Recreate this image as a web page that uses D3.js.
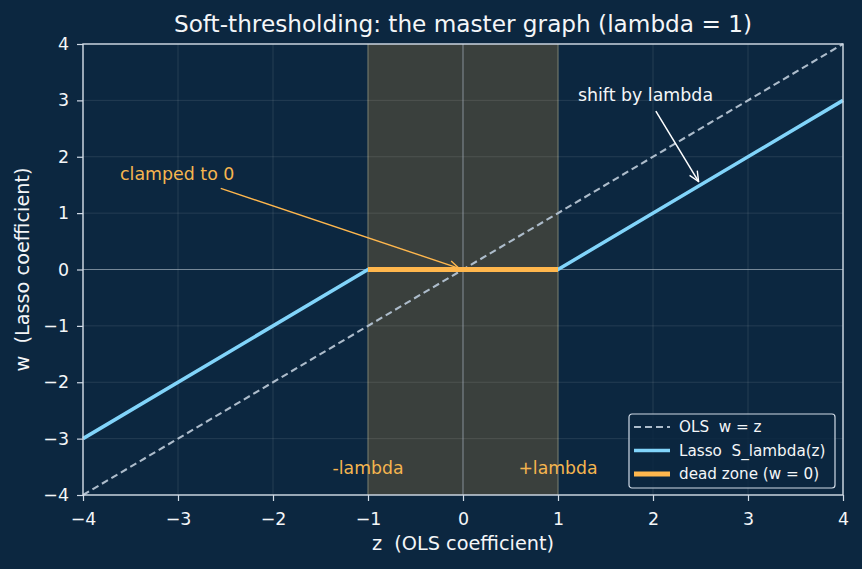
<!DOCTYPE html>
<html><head><meta charset="utf-8">
<script src="https://cdn.jsdelivr.net/npm/d3@7"></script>
<style>body{margin:0;background:#0c2740;}svg{display:block;font-family:"DejaVu Sans",sans-serif;}text{white-space:pre;}</style>
</head><body><svg id="c" width="862" height="569"></svg>
<script>
const lambda = 1;
const zDomain = [-4, 4];
const wDomain = [-4, 4];
const xTicks = [-4, -3, -2, -1, 0, 1, 2, 3, 4];
const yTicks = [-4, -3, -2, -1, 0, 1, 2, 3, 4];
const olsZ = [-4, 4];
const lassoZ = [-4, -1, 1, 4];
const deadZ = [-1, 1];
const legendLabels = ["OLS  w = z", "Lasso  S_lambda(z)", "dead zone (w = 0)"];
const soft = z => Math.sign(z) * Math.max(Math.abs(z) - lambda, 0);

const svg = d3.select("#c");
const W = 862, H = 569;
const m = {l: 83, r: 19, t: 44, b: 74};
const x = d3.scaleLinear().domain(zDomain).range([m.l, W - m.r]);
const y = d3.scaleLinear().domain(wDomain).range([H - m.b, m.t]);

svg.append("rect").attr("width", W).attr("height", H).attr("fill", "#0c2740");

// dead zone shading
svg.append("rect").attr("x", x(-lambda)).attr("y", y(4)).attr("width", x(lambda)-x(-lambda)).attr("height", y(-4)-y(4))
  .attr("fill", "#4a4a3c").attr("opacity", 0.75);
[ -lambda, lambda ].forEach(v => svg.append("line").attr("x1", x(v)).attr("x2", x(v)).attr("y1", y(4)).attr("y2", y(-4))
  .attr("stroke", "#6b7060").attr("stroke-width", 1));

// grid
const g = svg.append("g");
xTicks.forEach(t => g.append("line").attr("x1", x(t)).attr("x2", x(t)).attr("y1", y(4)).attr("y2", y(-4)).attr("stroke", "#ffffff").attr("stroke-opacity", 0.13).attr("stroke-width", 0.8));
yTicks.forEach(t => g.append("line").attr("y1", y(t)).attr("y2", y(t)).attr("x1", x(-4)).attr("x2", x(4)).attr("stroke", "#ffffff").attr("stroke-opacity", 0.13).attr("stroke-width", 0.8));

// zero axes
svg.append("line").attr("x1", x(-4)).attr("x2", x(4)).attr("y1", y(0)).attr("y2", y(0)).attr("stroke", "#9aa8b6").attr("stroke-opacity", 0.7).attr("stroke-width", 1.2);
svg.append("line").attr("x1", x(0)).attr("x2", x(0)).attr("y1", y(4)).attr("y2", y(-4)).attr("stroke", "#9aa8b6").attr("stroke-opacity", 0.55).attr("stroke-width", 1.2);

const line = d3.line().x(d => x(d[0])).y(d => y(d[1]));
svg.append("path").datum(olsZ.map(z => [z, z])).attr("d", line).attr("fill", "none")
  .attr("stroke", "#adbccb").attr("stroke-width", 2.1).attr("stroke-dasharray", "7,4");
svg.append("path").datum(lassoZ.map(z => [z, soft(z)])).attr("d", line).attr("fill", "none")
  .attr("stroke", "#81d4fa").attr("stroke-width", 3.5);
svg.append("path").datum(deadZ.map(z => [z, 0])).attr("d", line).attr("fill", "none")
  .attr("stroke", "#ffb74d").attr("stroke-width", 5);

// spines
svg.append("rect").attr("x", x(-4)).attr("y", y(4)).attr("width", x(4)-x(-4)).attr("height", y(-4)-y(4))
  .attr("fill", "none").attr("stroke", "#d0dae6").attr("stroke-width", 1.4);

// axes
const fmt = d => d < 0 ? "\u2212" + Math.abs(d) : String(d);
const xa = svg.append("g").attr("transform", `translate(0,${y(-4)})`).call(d3.axisBottom(x).tickValues(xTicks).tickSize(6).tickPadding(12).tickFormat(fmt));
const ya = svg.append("g").attr("transform", `translate(${x(-4)},0)`).call(d3.axisLeft(y).tickValues(yTicks).tickSize(6).tickPadding(8).tickFormat(fmt));
[xa, ya].forEach(a => {
  a.attr("font-size", null).attr("font-family", null);
  a.select(".domain").remove();
  a.selectAll("line").attr("stroke", "#d0dae6").attr("stroke-width", 1.2);
  a.selectAll("text").attr("fill", "#f4f6f8").style("font-size", "17.4px");
});

// labels
svg.append("text").attr("x", (x(-4)+x(4))/2).attr("y", 32).attr("text-anchor", "middle").attr("fill", "#f4f6f8").style("font-size", "23.2px")
  .text("Soft-thresholding: the master graph (lambda = 1)");
svg.append("text").attr("x", (x(-4)+x(4))/2).attr("y", 550).attr("text-anchor", "middle").attr("fill", "#f4f6f8").style("font-size", "19.3px")
  .text("z  (OLS coefficient)");
svg.append("text").attr("transform", `translate(29,${(y(4)+y(-4))/2}) rotate(-90)`).attr("text-anchor", "middle").attr("fill", "#f4f6f8").style("font-size", "19.3px")
  .text("w  (Lasso coefficient)");

// lambda labels
svg.append("text").attr("x", x(-lambda)).attr("y", y(-3.63)).attr("text-anchor", "middle").attr("fill", "#f5b54f").style("font-size", "17.3px").text("-lambda");
svg.append("text").attr("x", x(lambda)).attr("y", y(-3.63)).attr("text-anchor", "middle").attr("fill", "#f5b54f").style("font-size", "17.3px").text("+lambda");

// arrow markers
const defs = svg.append("defs");
function marker(id, col) {
  defs.append("marker").attr("id", id).attr("viewBox", "0 0 12 12").attr("refX", 11).attr("refY", 6)
    .attr("markerWidth", 12).attr("markerHeight", 12).attr("markerUnits", "userSpaceOnUse").attr("orient", "auto")
    .append("path").attr("d", "M1,1.5 L11,6 L1,10.5").attr("fill", "none").attr("stroke", col).attr("stroke-width", 1.4);
}
marker("ao", "#ffb74d"); marker("aw", "#ffffff");

svg.append("text").attr("x", x(-3.61)).attr("y", y(1.58)).attr("fill", "#f5b54f").style("font-size", "17.4px").text("clamped to 0");
svg.append("line").attr("x1", x(-2.55)).attr("y1", y(1.44)).attr("x2", x(-0.04)).attr("y2", y(0.02))
  .attr("stroke", "#ffb74d").attr("stroke-width", 1.4).attr("marker-end", "url(#ao)");

svg.append("text").attr("x", x(1.21)).attr("y", y(2.99)).attr("fill", "#f4f6f8").style("font-size", "17.4px").text("shift by lambda");
svg.append("line").attr("x1", x(2.03)).attr("y1", y(2.81)).attr("x2", x(2.48)).attr("y2", y(1.56))
  .attr("stroke", "#ffffff").attr("stroke-width", 1.5).attr("marker-end", "url(#aw)");

// legend
const lg = svg.append("g").attr("transform", "translate(629,414)");
lg.append("rect").attr("width", 206).attr("height", 74).attr("rx", 3).attr("fill", "#0c2740").attr("fill-opacity", 0.85)
  .attr("stroke", "#d0dae6").attr("stroke-width", 1.2);
const styles = [
  {c: "#adbccb", w: 2.1, d: "7,4"},
  {c: "#81d4fa", w: 3.5, d: null},
  {c: "#ffb74d", w: 5, d: null}
];
legendLabels.forEach((t, i) => {
  const yy = 13 + i * 23.5;
  lg.append("line").attr("x1", 5).attr("x2", 41).attr("y1", yy).attr("y2", yy).attr("stroke", styles[i].c)
    .attr("stroke-width", styles[i].w).attr("stroke-dasharray", styles[i].d);
  lg.append("text").attr("x", 50).attr("y", yy).attr("dy", "0.36em").attr("fill", "#f4f6f8").style("font-size", "15.2px").text(t);
});
</script></body></html>
